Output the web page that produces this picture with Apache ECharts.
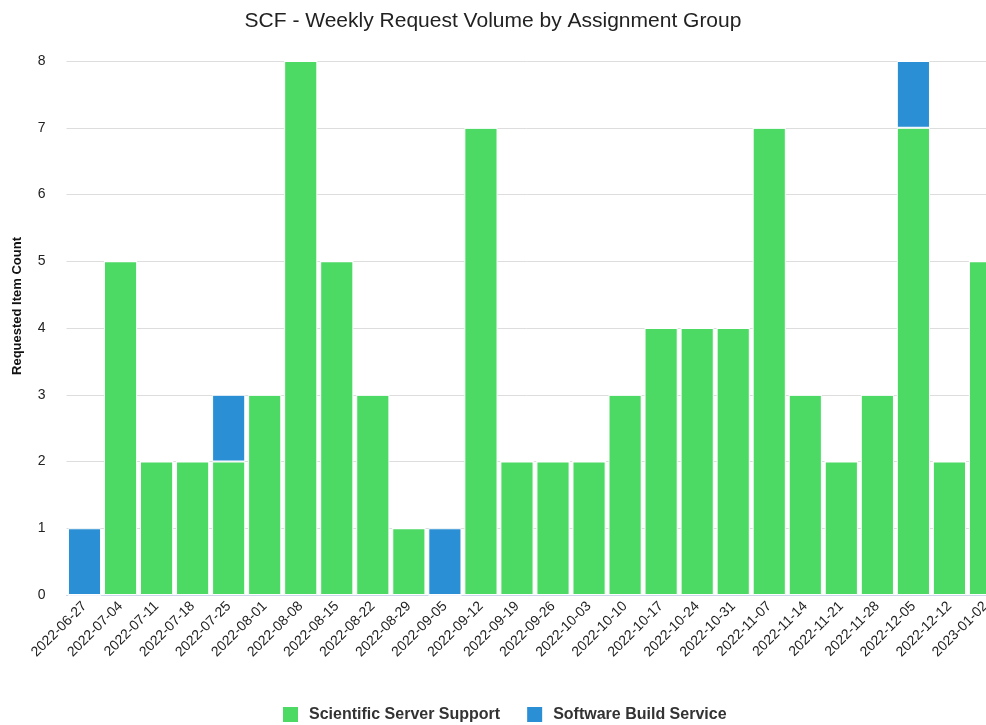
<!DOCTYPE html>
<html>
<head>
<meta charset="utf-8">
<script src="https://cdn.jsdelivr.net/npm/echarts@6/dist/echarts.min.js"></script>
<style>
html,body{margin:0;padding:0;background:#fff;}
#main{width:986px;height:725px;}
</style>
</head>
<body>
<div id="main"></div>
<script>
const categories = ["2022-06-27","2022-07-04","2022-07-11","2022-07-18","2022-07-25","2022-08-01","2022-08-08","2022-08-15","2022-08-22","2022-08-29","2022-09-05","2022-09-12","2022-09-19","2022-09-26","2022-10-03","2022-10-10","2022-10-17","2022-10-24","2022-10-31","2022-11-07","2022-11-14","2022-11-21","2022-11-28","2022-12-05","2022-12-12","2023-01-02"];
const scientificServerSupport = [0,5,2,2,2,3,8,5,3,1,0,7,2,2,2,3,4,4,4,7,3,2,3,7,2,5];
const softwareBuildService = [1,0,0,0,1,0,0,0,0,0,1,0,0,0,0,0,0,0,0,0,0,0,0,1,0,0];
const yTicks = [0,1,2,3,4,5,6,7,8];

const font = 'Helvetica, Arial, "Liberation Sans", sans-serif';
const chart = echarts.init(document.getElementById('main'));
chart.setOption({
  animation: false,
  title: {
    text: 'SCF - Weekly Request Volume by Assignment Group',
    left: 'center', top: 6,
    textStyle: {fontFamily: font, fontSize: 21, fontWeight: 'normal', color: '#222'}
  },
  legend: {
    top: 700, left: 276, itemWidth: 17, itemHeight: 17, itemGap: 25,
    icon: 'rect',
    textStyle: {fontFamily: font, fontSize: 16, fontWeight: 'bold', color: '#333', padding: [0, 0, 0, 5]},
    data: ['Scientific Server Support', 'Software Build Service']
  },
  grid: {left: 66.5, top: 61, width: 937, height: 534, outerBoundsMode: 'none', containLabel: false},
  xAxis: {
    type: 'category', data: categories,
    axisLine: {show: true, lineStyle: {color: '#ccd6eb'}},
    axisTick: {show: false},
    axisLabel: {rotate: 45, interval: 0, margin: 9, fontFamily: font, fontSize: 14, color: '#222'}
  },
  yAxis: {
    type: 'value', min: 0, max: 8, interval: 1,
    name: 'Requested Item Count', nameLocation: 'middle', nameGap: 43, nameRotate: 90,
    nameTextStyle: {fontFamily: font, fontSize: 13, fontWeight: 'bold', color: '#111', padding: [0, 0, 0, 44]},
    axisLabel: {margin: 21, fontFamily: font, fontSize: 14, color: '#222',
      formatter: v => yTicks.includes(v) ? String(v) : ''},
    splitLine: {lineStyle: {color: '#dddddd', width: 1}},
    axisLine: {show: false}, axisTick: {show: false}
  },
  series: [
    {name: 'Scientific Server Support', type: 'bar', stack: 'total', data: scientificServerSupport,
     barCategoryGap: '8%', itemStyle: {color: '#4cd964', borderColor: '#ffffff', borderWidth: 1}},
    {name: 'Software Build Service', type: 'bar', stack: 'total', data: softwareBuildService,
     barCategoryGap: '8%', itemStyle: {color: '#2a8fd4', borderColor: '#ffffff', borderWidth: 1}}
  ]
});
</script>
</body>
</html>
